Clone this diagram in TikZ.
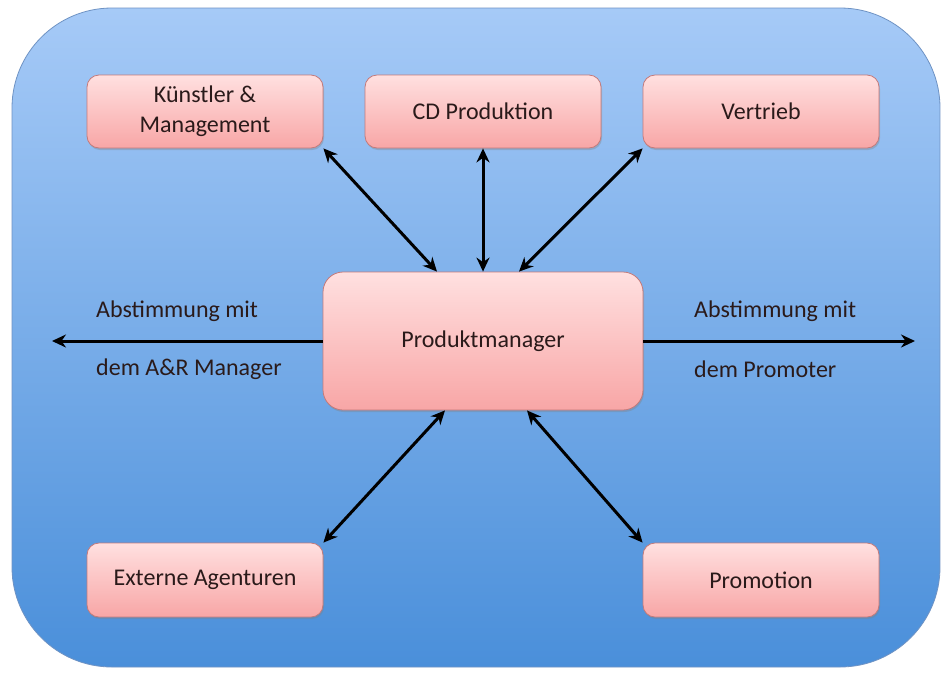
\documentclass[tikz,border=0pt]{standalone}
\usepackage{fontspec}
\setmainfont{Carlito}
\usetikzlibrary{arrows.meta,shadows}
\definecolor{bgtop}{HTML}{A6CAF7}
\definecolor{bgbot}{HTML}{4A8FDA}
\definecolor{bgline}{HTML}{6F93C4}
\definecolor{boxtop}{HTML}{FFE0E0}
\definecolor{boxbot}{HTML}{F8A6A6}
\definecolor{boxline}{HTML}{C47A7A}
\definecolor{txt}{HTML}{2A1A1A}
\tikzset{
  pbox/.style={rectangle, rounded corners=12pt, draw=boxline, line width=0.8pt,
    top color=boxtop, bottom color=boxbot, text=txt, align=center,
    font=\fontsize{24}{30}\selectfont,
    drop shadow={opacity=0.35, shadow xshift=1pt, shadow yshift=-2pt}},
  link/.style={line width=3pt, black, {Stealth[length=14pt,width=13pt]}-{Stealth[length=14pt,width=13pt]}},
  onelink/.style={line width=3pt, black, -{Stealth[length=14pt,width=13pt]}},
  lbl/.style={text=txt, font=\fontsize{24}{30}\selectfont, anchor=west, inner sep=0pt}
}
\begin{document}
\begin{tikzpicture}[x=1pt,y=-1pt]
\useasboundingbox (0,0) rectangle (941,673);
\fill[white] (0,0) rectangle (941,673);
\shade[top color=bgtop, bottom color=bgbot, draw=bgline, line width=0.8pt, rounded corners=100pt]
  (12,8) rectangle (940,667);

\node[pbox, minimum width=236pt, minimum height=73pt] (kuen) at (205,111.5) {Künstler \&\\Management};
\node[pbox, minimum width=236pt, minimum height=73pt] (cd) at (483,111.5) {CD Produktion};
\node[pbox, minimum width=236pt, minimum height=73pt] (vert) at (761,111.5) {Vertrieb};
\node[pbox, minimum width=320pt, minimum height=138pt, rounded corners=20pt] (pm) at (483,341) {Produktmanager};
\node[pbox, minimum width=236pt, minimum height=74pt] (ext) at (205,580) {Externe Agenturen};
\node[pbox, minimum width=236pt, minimum height=74pt] (promo) at (761,580) {Promotion};

\coordinate (lend) at (52,341);
\coordinate (rend) at (915,341);

\draw[link] (kuen.south east) -- (pm.north -| 437,0);
\draw[link] (cd.south) -- (pm.north);
\draw[link] (vert.south west) -- (pm.north -| 519,0);
\draw[link] (ext.north east) -- (pm.south -| 445,0);
\draw[link] (promo.north west) -- (pm.south -| 527,0);
\draw[onelink] (pm.west) -- (lend);
\draw[onelink] (pm.east) -- (rend);

\node[lbl] (l1) at (96,311) {Abstimmung mit};
\node[lbl] (l2) at (96,369) {dem A\&R Manager};
\node[lbl] (r1) at (694,311) {Abstimmung mit};
\node[lbl] (r2) at (694,369) {dem Promoter};
\end{tikzpicture}
\end{document}
